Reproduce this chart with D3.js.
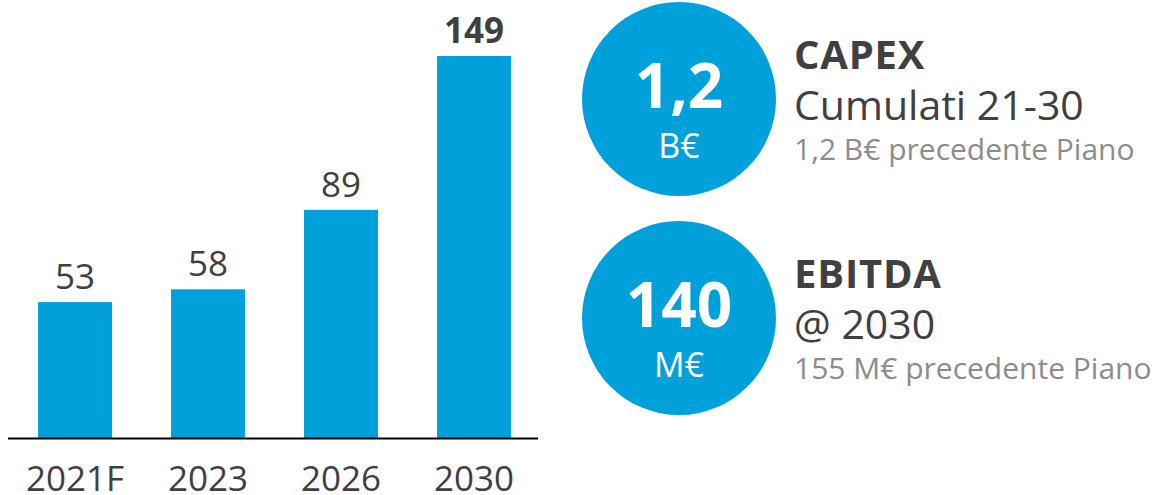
<!DOCTYPE html>
<html><head><meta charset="utf-8">
<script src="https://cdn.jsdelivr.net/npm/d3@7"></script>
<style>body{margin:0;background:#fff}svg{display:block}text{font-family:"Open Sans","Noto Sans",sans-serif}</style>
</head><body>
<script>
const categories = ["2021F","2023","2026","2030"];
const values = [53,58,89,149];
const boldLabel = [false,false,false,true];
const kpiValues = ["1,2","140"];
const kpiUnits = ["B€","M€"];
const kpiTitles = ["CAPEX","EBITDA"];
const kpiSubtitles = ["Cumulati 21-30","@ 2030"];
const kpiNotes = ["1,2 B€ precedente Piano","155 M€ precedente Piano"];

const W=1160,H=495, blue="#00a0da", dark="#404040", grey="#8c8c8c";
const svg=d3.select("body").append("svg").attr("width",W).attr("height",H);

const x=d3.scaleBand().domain(categories).range([8,541]).paddingInner(0.444).paddingOuter(0.226);
const y=d3.scaleLinear().domain([0,149]).range([438,56]);

svg.selectAll("rect.bar").data(values).join("rect").attr("class","bar")
  .attr("x",(d,i)=>x(categories[i])).attr("width",x.bandwidth())
  .attr("y",d=>y(d)).attr("height",d=>y(0)-y(d)).attr("fill",blue);

svg.selectAll("text.val").data(values).join("text").attr("class","val")
  .attr("x",(d,i)=>x(categories[i])+x.bandwidth()/2).attr("y",d=>y(d)-13)
  .attr("text-anchor","middle").attr("font-size",35).attr("fill",dark)
  .attr("font-weight",(d,i)=>boldLabel[i]?700:400).text(d=>d);

const ax=svg.append("g").attr("transform","translate(0,438)").call(d3.axisBottom(x).tickSize(0).tickPadding(0));
ax.select(".domain").attr("stroke","#000").attr("stroke-width",2).attr("d","M8,0.5H538");
ax.selectAll(".tick text").attr("font-size",35).attr("fill",dark).attr("dy",0).attr("y",53)
  .style("font-family",'"Open Sans","Noto Sans",sans-serif');

const cy=[99,318];
kpiValues.forEach((v,i)=>{
  const g=svg.append("g");
  g.append("circle").attr("cx",679).attr("cy",cy[i]).attr("r",97).attr("fill",blue);
  g.append("text").attr("x",679).attr("y",cy[i]+9).attr("text-anchor","middle").attr("font-size",62)
    .attr("font-weight",700).attr("fill","#fff").text(v);
  g.append("text").attr("x",679).attr("y",cy[i]+59).attr("text-anchor","middle").attr("font-size",34)
    .attr("fill","#fff").text(kpiUnits[i]);
  g.append("text").attr("x",794).attr("y",cy[i]-30).attr("font-size",40).attr("font-weight",700)
    .attr("letter-spacing",0.8).attr("fill",dark).text(kpiTitles[i]);
  g.append("text").attr("x",794).attr("y",cy[i]+21).attr("font-size",41)
    .attr("fill",dark).text(kpiSubtitles[i]);
  g.append("text").attr("x",794).attr("y",cy[i]+61).attr("font-size",30)
    .attr("fill",grey).text(kpiNotes[i]);
});
</script>
</body></html>
